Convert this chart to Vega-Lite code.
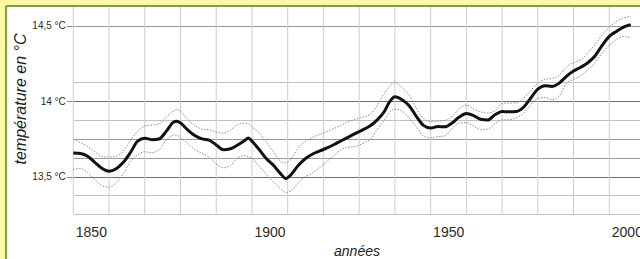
{
  "$schema": "https://vega.github.io/schema/vega-lite/v6.json",
  "autosize": {"type": "none"},
  "padding": {"left": 6, "top": 6, "right": 0, "bottom": 0},
  "width": 634,
  "height": 253,
  "background": "#FFF9A5",
  "datasets": {
    "decennies": [
      {"year": 1850}, {"year": 1860}, {"year": 1870}, {"year": 1880}, {"year": 1890},
      {"year": 1900}, {"year": 1910}, {"year": 1920}, {"year": 1930}, {"year": 1940},
      {"year": 1950}, {"year": 1960}, {"year": 1970}, {"year": 1980}, {"year": 1990}, {"year": 2000}
    ],
    "temp": [
    {"year": 1850, "moy": 13.657, "haut": 13.749, "bas": 13.546},
    {"year": 1852, "moy": 13.653, "haut": 13.725, "bas": 13.555},
    {"year": 1854, "moy": 13.635, "haut": 13.700, "bas": 13.525},
    {"year": 1856, "moy": 13.595, "haut": 13.665, "bas": 13.480},
    {"year": 1858, "moy": 13.555, "haut": 13.634, "bas": 13.440},
    {"year": 1860, "moy": 13.535, "haut": 13.630, "bas": 13.430},
    {"year": 1862, "moy": 13.552, "haut": 13.634, "bas": 13.460},
    {"year": 1864, "moy": 13.595, "haut": 13.670, "bas": 13.520},
    {"year": 1866, "moy": 13.660, "haut": 13.740, "bas": 13.600},
    {"year": 1868, "moy": 13.735, "haut": 13.800, "bas": 13.645},
    {"year": 1870, "moy": 13.755, "haut": 13.835, "bas": 13.665},
    {"year": 1872, "moy": 13.745, "haut": 13.842, "bas": 13.658},
    {"year": 1874, "moy": 13.750, "haut": 13.850, "bas": 13.680},
    {"year": 1876, "moy": 13.800, "haut": 13.895, "bas": 13.740},
    {"year": 1878, "moy": 13.860, "haut": 13.935, "bas": 13.776},
    {"year": 1879, "moy": 13.868, "haut": 13.944, "bas": 13.775},
    {"year": 1880, "moy": 13.855, "haut": 13.935, "bas": 13.760},
    {"year": 1882, "moy": 13.810, "haut": 13.880, "bas": 13.720},
    {"year": 1884, "moy": 13.772, "haut": 13.840, "bas": 13.680},
    {"year": 1886, "moy": 13.750, "haut": 13.815, "bas": 13.655},
    {"year": 1888, "moy": 13.742, "haut": 13.810, "bas": 13.630},
    {"year": 1890, "moy": 13.710, "haut": 13.795, "bas": 13.585},
    {"year": 1892, "moy": 13.678, "haut": 13.788, "bas": 13.558},
    {"year": 1894, "moy": 13.685, "haut": 13.810, "bas": 13.575},
    {"year": 1896, "moy": 13.710, "haut": 13.845, "bas": 13.625},
    {"year": 1898, "moy": 13.740, "haut": 13.855, "bas": 13.640},
    {"year": 1899, "moy": 13.756, "haut": 13.850, "bas": 13.630},
    {"year": 1900, "moy": 13.735, "haut": 13.830, "bas": 13.620},
    {"year": 1902, "moy": 13.680, "haut": 13.790, "bas": 13.570},
    {"year": 1904, "moy": 13.620, "haut": 13.730, "bas": 13.515},
    {"year": 1906, "moy": 13.575, "haut": 13.665, "bas": 13.465},
    {"year": 1908, "moy": 13.520, "haut": 13.600, "bas": 13.420},
    {"year": 1909.5, "moy": 13.488, "haut": 13.590, "bas": 13.395},
    {"year": 1911, "moy": 13.515, "haut": 13.620, "bas": 13.405},
    {"year": 1913, "moy": 13.575, "haut": 13.690, "bas": 13.460},
    {"year": 1915, "moy": 13.620, "haut": 13.735, "bas": 13.500},
    {"year": 1917, "moy": 13.650, "haut": 13.760, "bas": 13.525},
    {"year": 1919, "moy": 13.670, "haut": 13.780, "bas": 13.560},
    {"year": 1921, "moy": 13.690, "haut": 13.800, "bas": 13.600},
    {"year": 1923, "moy": 13.713, "haut": 13.820, "bas": 13.640},
    {"year": 1925, "moy": 13.738, "haut": 13.840, "bas": 13.680},
    {"year": 1927, "moy": 13.762, "haut": 13.865, "bas": 13.695},
    {"year": 1929, "moy": 13.787, "haut": 13.880, "bas": 13.700},
    {"year": 1931, "moy": 13.810, "haut": 13.895, "bas": 13.720},
    {"year": 1933, "moy": 13.835, "haut": 13.910, "bas": 13.745},
    {"year": 1935, "moy": 13.875, "haut": 13.970, "bas": 13.810},
    {"year": 1937, "moy": 13.930, "haut": 14.050, "bas": 13.875},
    {"year": 1938.5, "moy": 13.995, "haut": 14.100, "bas": 13.925},
    {"year": 1940, "moy": 14.030, "haut": 14.127, "bas": 13.948},
    {"year": 1942, "moy": 14.010, "haut": 14.090, "bas": 13.935},
    {"year": 1944, "moy": 13.970, "haut": 14.040, "bas": 13.890},
    {"year": 1946, "moy": 13.900, "haut": 13.955, "bas": 13.830},
    {"year": 1948, "moy": 13.840, "haut": 13.885, "bas": 13.770},
    {"year": 1950, "moy": 13.822, "haut": 13.866, "bas": 13.756},
    {"year": 1952, "moy": 13.832, "haut": 13.868, "bas": 13.765},
    {"year": 1954, "moy": 13.830, "haut": 13.872, "bas": 13.770},
    {"year": 1956, "moy": 13.855, "haut": 13.900, "bas": 13.820},
    {"year": 1958, "moy": 13.895, "haut": 13.950, "bas": 13.855},
    {"year": 1960, "moy": 13.918, "haut": 13.975, "bas": 13.858},
    {"year": 1962, "moy": 13.905, "haut": 13.950, "bas": 13.835},
    {"year": 1964, "moy": 13.880, "haut": 13.930, "bas": 13.812},
    {"year": 1966, "moy": 13.875, "haut": 13.922, "bas": 13.815},
    {"year": 1968, "moy": 13.910, "haut": 13.935, "bas": 13.850},
    {"year": 1970, "moy": 13.932, "haut": 13.985, "bas": 13.877},
    {"year": 1972, "moy": 13.930, "haut": 13.988, "bas": 13.877},
    {"year": 1974, "moy": 13.932, "haut": 13.990, "bas": 13.890},
    {"year": 1976, "moy": 13.960, "haut": 14.020, "bas": 13.920},
    {"year": 1978, "moy": 14.020, "haut": 14.070, "bas": 13.975},
    {"year": 1980, "moy": 14.080, "haut": 14.120, "bas": 14.020},
    {"year": 1982, "moy": 14.103, "haut": 14.145, "bas": 14.025},
    {"year": 1984, "moy": 14.098, "haut": 14.152, "bas": 14.010},
    {"year": 1986, "moy": 14.120, "haut": 14.170, "bas": 14.035},
    {"year": 1988, "moy": 14.165, "haut": 14.228, "bas": 14.120},
    {"year": 1990, "moy": 14.200, "haut": 14.255, "bas": 14.145},
    {"year": 1992, "moy": 14.225, "haut": 14.275, "bas": 14.170},
    {"year": 1994, "moy": 14.255, "haut": 14.320, "bas": 14.210},
    {"year": 1996, "moy": 14.300, "haut": 14.375, "bas": 14.255},
    {"year": 1998, "moy": 14.370, "haut": 14.440, "bas": 14.320},
    {"year": 2000, "moy": 14.430, "haut": 14.490, "bas": 14.370},
    {"year": 2002, "moy": 14.463, "haut": 14.529, "bas": 14.410},
    {"year": 2004, "moy": 14.492, "haut": 14.552, "bas": 14.430},
    {"year": 2006, "moy": 14.508, "haut": 14.562, "bas": 14.419}
    ]
  },
  "encoding": {
    "x": {
      "field": "year",
      "type": "quantitative",
      "scale": {"domain": [1850, 2008.6], "range": [67.3, 634], "nice": false, "zero": false},
      "axis": {
        "orient": "bottom",
        "offset": -44.7,
        "values": [1850, 1900, 1950, 2000],
        "tickCount": 50,
        "format": "d",
        "domain": false,
        "ticks": false,
        "tickSize": 0,
        "grid": false,
        "labelAlign": "left",
        "labelBaseline": "top",
        "labelOffset": 2,
        "labelPadding": 11,
        "labelFlush": false,
        "labelOverlap": false,
        "labelBound": false,
        "labelFont": "Liberation Sans, Arial, sans-serif",
        "labelFontSize": 14,
        "labelColor": "#2a2a2a",
        "title": "années",
        "titleFont": "Liberation Sans, Arial, sans-serif",
        "titleFontStyle": "italic",
        "titleFontWeight": "normal",
        "titleFontSize": 14,
        "titleColor": "#222222",
        "titleX": 350.5,
        "titleY": 41.5,
        "titleAlign": "center",
        "titleBaseline": "alphabetic"
      }
    }
  },
  "layer": [
    {
      "data": {"name": "decennies"},
      "mark": {"type": "rule", "color": "#cdcdcd", "strokeWidth": 1},
      "encoding": {
        "y": {"datum": 13.25, "type": "quantitative"},
        "y2": {"datum": 14.625}
      }
    },
    {
      "data": {"name": "temp"},
      "mark": {"type": "line", "color": "#8a8a8a", "strokeWidth": 1, "strokeDash": [1.5, 1.5], "interpolate": "monotone"},
      "encoding": {
        "y": {
          "field": "haut",
          "type": "quantitative",
          "scale": {"domain": [13.25, 14.625], "range": [208.3, 1], "nice": false, "zero": false},
          "axis": {
            "orient": "left",
            "offset": -67.3,
            "values": [13.25, 13.375, 13.5, 13.625, 13.75, 13.875, 14, 14.125, 14.5],
            "tickCount": 50,
            "labelExpr": "datum.value == 14.5 ? '14,5 °C' : datum.value == 14 ? '14 °C' : datum.value == 13.5 ? '13,5 °C' : ''",
            "domain": false,
            "ticks": true,
            "tickSize": 7,
            "tickColor": {"condition": {"test": "datum.value == 14.5 || datum.value == 14 || datum.value == 13.5", "value": "#888888"}, "value": "transparent"},
            "grid": true,
            "gridColor": {"condition": [
              {"test": "datum.value == 14 || datum.value == 13.5", "value": "#6e6e6e"},
              {"test": "datum.value == 13.75 || datum.value == 13.625 || datum.value == 14.5", "value": "#999999"}
            ], "value": "#c2c2c2"},
            "gridWidth": 1.2,
            "labelAlign": "right",
            "labelBaseline": "middle",
            "labelPadding": 1,
            "labelFont": "Liberation Sans, Arial, sans-serif",
            "labelFontSize": 10,
            "labelColor": "#2a2a2a",
            "labelOverlap": false,
            "labelBound": false,
            "labelFlush": false,
            "title": "température en °C",
            "titleFont": "Liberation Sans, Arial, sans-serif",
            "titleFontStyle": "italic",
            "titleFontWeight": "normal",
            "titleFontSize": 16,
            "titleColor": "#222222",
            "titleAngle": -90,
            "titleX": -48.3,
            "titleY": 92.5,
            "titleAlign": "center",
            "titleBaseline": "alphabetic"
          }
        }
      }
    },
    {
      "data": {"name": "temp"},
      "mark": {"type": "line", "color": "#8a8a8a", "strokeWidth": 1, "strokeDash": [1.5, 1.5], "interpolate": "monotone"},
      "encoding": {"y": {"field": "bas", "type": "quantitative"}}
    },
    {
      "data": {"name": "temp"},
      "mark": {"type": "line", "color": "#111111", "strokeWidth": 3, "interpolate": "monotone"},
      "encoding": {"y": {"field": "moy", "type": "quantitative"}}
    }
  ],
  "config": {
    "view": {"fill": "white", "stroke": "#7ba03c", "strokeWidth": 2, "strokeDash": [634, 887, 253, 0]}
  }
}
